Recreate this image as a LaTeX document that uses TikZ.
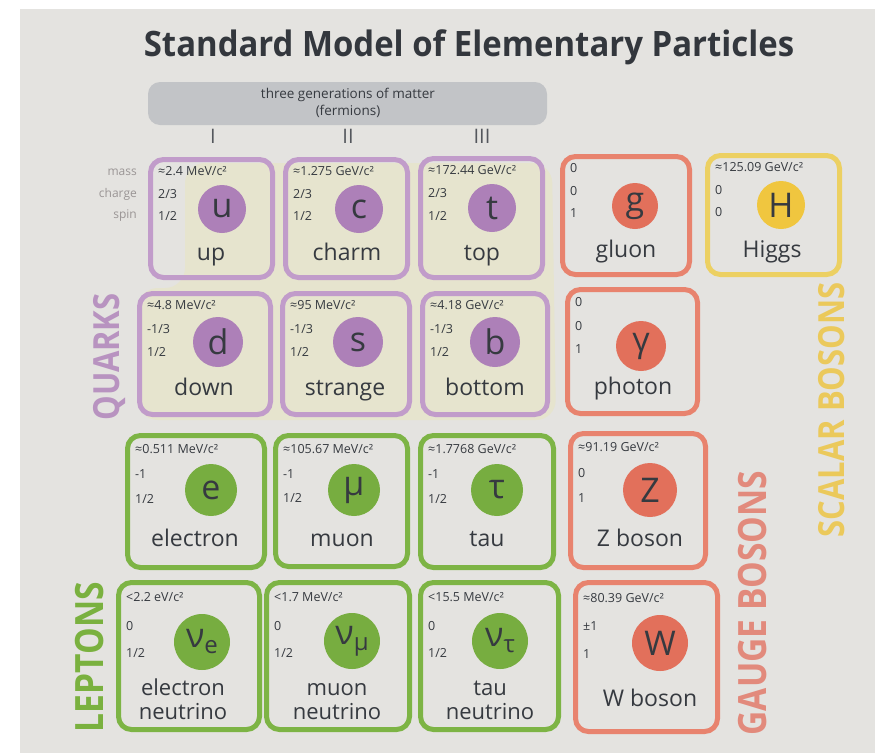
\documentclass[tikz,border=0pt]{standalone}
\usepackage{fontspec}
\setmainfont{Open Sans}
\definecolor{paper}{HTML}{E4E3E0}
\definecolor{ink}{HTML}{363A40}
\definecolor{graylab}{HTML}{9A9595}
\definecolor{band}{HTML}{C2C4C7}
\definecolor{glow}{HTML}{E8E5C0}
\definecolor{qborder}{HTML}{C19CCA}
\definecolor{qfill}{HTML}{AD80B8}
\definecolor{lborder}{HTML}{7DB445}
\definecolor{lfill}{HTML}{77AD40}
\definecolor{gborder}{HTML}{E8836E}
\definecolor{gfill}{HTML}{E2705B}
\definecolor{hborder}{HTML}{ECD062}
\definecolor{hfill}{HTML}{F0C63F}
\definecolor{qlab}{HTML}{B893C0}
\definecolor{llab}{HTML}{7AB13F}
\definecolor{glab}{HTML}{E28A7C}
\definecolor{hlab}{HTML}{EBC95B}
\tikzset{
  cell/.style={line width=5pt, rounded corners=13pt},
  val/.style={anchor=west, inner sep=0pt, text=ink, font=\fontsize{12.5}{14}\selectfont},
  sym/.style={inner sep=0pt, text=ink, font=\fontsize{34}{34}\selectfont},
  pname/.style={anchor=base, inner sep=0pt, text=ink, font=\fontsize{23}{24}\selectfont, align=center},
  pname2/.style={anchor=base, inner sep=0pt, text=ink, font=\fontsize{22}{24}\selectfont, align=center},
  biglab/.style={rotate=90, inner sep=0pt},
  side/.style={anchor=east, inner sep=0pt, text=graylab, font=\fontsize{12}{14}\selectfont},
  gen/.style={inner sep=0pt, text=ink!85, font=\fontsize{20}{22}\selectfont},
}
\newcommand\cellbox[9]{%
  \draw[cell, draw=#6] ({#2+2.5},{#3+2.5}) rectangle ({#4-2.5},{#5-2.5});
  \pgfmathsetmacro\hh{#5-#3}%
  \node[val] (m#1) at ({#2+10},{#3+0.115*\hh}) {#7};
  \node[val] (q#1) at ({#2+10},{#3+0.30*\hh}) {#8};
  \node[val] (s#1) at ({#2+10},{#3+0.48*\hh}) {#9};
}
\newcommand\cellsym[6]{%
  \fill[#5] (#2,#3) circle[radius=#4];
  \node[sym] (p#1) at (#2,#3) {#6};
}
\newcommand\nusym[1]{ν\raisebox{-6pt}{\fontsize{24}{24}\selectfont #1}}
\begin{document}
\begin{tikzpicture}[x=1pt,y=-1pt]
\useasboundingbox (0,0) rectangle (875,753);
\fill[white] (0,0) rectangle (875,753);
\fill[paper] (20,9) rectangle (875,753);
% yellow glow behind quarks
\fill[glow, opacity=0.55, rounded corners=20pt] (185,163) -- (552,163) -- (556,420) -- (138,420) -- (138,288) -- (185,288) -- cycle;

% title
\node[text=ink!95!black, inner sep=0pt] (title) at (469,47)
  {\fontsize{35}{38}\selectfont\bfseries\scalebox{0.94}[1]{Standard Model of Elementary Particles}};

% generations band
\fill[band, rounded corners=12pt] (148,82) rectangle (547,125);
\node[inner sep=0pt, text=ink, align=center, font=\fontsize{13.5}{17}\selectfont] (gens) at (348,103)
  {three generations of matter\\(fermions)};
\node[gen] (g1) at (213,136) {I};
\node[gen] (g2) at (348,136) {II};
\node[gen] (g3) at (482,136) {III};

% side labels
\node[side] (lmass) at (137,172) {mass};
\node[side] (lcharge) at (137,194) {charge};
\node[side] (lspin) at (137,216) {spin};

% row 1
\cellbox{u}{148}{157}{275}{280}{qborder}{≈2.4 MeV/c²}{2/3}{1/2}
\cellsym{u}{222}{209}{24}{qfill}{u}
\node[pname] (nu) at (211,260) {up};
\cellbox{c}{283}{157}{410}{280}{qborder}{≈1.275 GeV/c²}{2/3}{1/2}
\cellsym{c}{359}{209}{24}{qfill}{c}
\node[pname] (nc) at (347,260) {charm};
\cellbox{t}{418}{156}{545}{280}{qborder}{≈172.44 GeV/c²}{2/3}{1/2}
\cellsym{t}{492}{208}{24}{qfill}{t}
\node[pname] (nt) at (482,260) {top};
\cellbox{g}{560}{154}{692}{277}{gborder}{0}{0}{1}
\cellsym{g}{635}{206}{23}{gfill}{g}
\node[pname] (ng) at (626,257) {gluon};
\cellbox{H}{705}{153}{842}{277}{hborder}{≈125.09 GeV/c²}{0}{0}
\cellsym{H}{781}{205}{24}{hfill}{H}
\node[pname] (nH) at (772,257) {Higgs};

% row 2
\cellbox{d}{137}{291}{273}{417}{qborder}{≈4.8 MeV/c²}{-1/3}{1/2}
\cellsym{d}{218}{342}{25}{qfill}{d}
\node[pname] (nd) at (204,395) {down};
\cellbox{s}{280}{291}{412}{417}{qborder}{≈95 MeV/c²}{-1/3}{1/2}
\cellsym{s}{358}{342}{25}{qfill}{s}
\node[pname] (ns) at (345,395) {strange};
\cellbox{b}{420}{291}{550}{417}{qborder}{≈4.18 GeV/c²}{-1/3}{1/2}
\cellsym{b}{495}{342}{25}{qfill}{b}
\node[pname] (nb) at (485,395) {bottom};
\cellbox{ph}{565}{287}{700}{416}{gborder}{0}{0}{1}
\cellsym{ph}{641}{346}{25}{gfill}{γ}
\node[pname] (nph) at (633,394) {photon};

% row 3
\cellbox{e}{125}{433}{267}{570}{lborder}{≈0.511 MeV/c²}{-1}{1/2}
\cellsym{e}{211}{490}{26}{lfill}{e}
\node[pname] (ne) at (195,546) {electron};
\cellbox{mu}{273}{433}{410}{569}{lborder}{≈105.67 MeV/c²}{-1}{1/2}
\cellsym{mu}{354}{490}{26}{lfill}{μ}
\node[pname] (nmu) at (342,546) {muon};
\cellbox{tau}{418}{433}{556}{570}{lborder}{≈1.7768 GeV/c²}{-1}{1/2}
\cellsym{tau}{497}{490}{26}{lfill}{τ}
\node[pname] (ntau) at (487,546) {tau};
\cellbox{Z}{568}{431}{708}{570}{gborder}{≈91.19 GeV/c²}{0}{1}
\cellsym{Z}{650}{490}{27}{gfill}{Z}
\node[pname] (nZ) at (640,546) {Z boson};

% row 4
\cellbox{ve}{116}{580}{262}{732}{lborder}{<2.2 eV/c²}{0}{1/2}
\cellsym{ve}{202}{642}{28}{lfill}{\nusym{e}}
\node[pname2] (nve) at (183,719) {electron\\neutrino};
\cellbox{vm}{264}{580}{412}{732}{lborder}{<1.7 MeV/c²}{0}{1/2}
\cellsym{vm}{352}{641}{28}{lfill}{\nusym{μ}}
\node[pname2] (nvm) at (337,719) {muon\\neutrino};
\cellbox{vt}{418}{580}{561}{732}{lborder}{<15.5 MeV/c²}{0}{1/2}
\cellsym{vt}{500}{641}{28}{lfill}{\nusym{τ}}
\node[pname2] (nvt) at (490,719) {tau\\neutrino};
\cellbox{W}{573}{580}{720}{734}{gborder}{≈80.39 GeV/c²}{±1}{1}
\cellsym{W}{660}{643}{28}{gfill}{W}
\node[pname] (nW) at (650,706) {W boson};

% group labels
\node[biglab, text=qlab] (quarks) at (110,357) {\fontsize{36}{38}\selectfont\bfseries\scalebox{0.86}[1]{QUARKS}};
\node[biglab, text=llab] (leptons) at (90,657) {\fontsize{39}{40}\selectfont\bfseries\scalebox{0.86}[1]{LEPTONS}};
\node[biglab, text=glab] (gauge) at (753,603) {\fontsize{39}{40}\selectfont\bfseries\scalebox{0.86}[1]{GAUGE BOSONS}};
\node[biglab, text=hlab] (scalar) at (832,410) {\fontsize{36}{38}\selectfont\bfseries\scalebox{0.86}[1]{SCALAR BOSONS}};
\end{tikzpicture}
\end{document}
